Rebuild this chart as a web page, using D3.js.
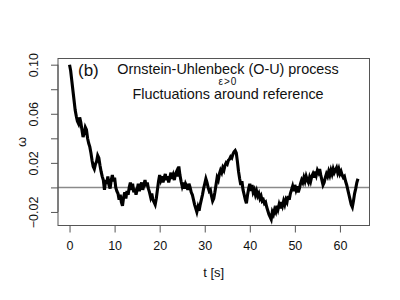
<!DOCTYPE html>
<html>
<head>
<meta charset="utf-8">
<script src="https://cdn.jsdelivr.net/npm/d3@7"></script>
<style>
  body { margin: 0; background: #fff; }
  svg { display: block; }
  text { font-family: "Liberation Sans", Arial, Helvetica, sans-serif; fill: #111; }
</style>
</head>
<body>
<div id="chart"></div>
<script>
// time step of the series (s)
const dt = 0.25;
// omega values, one per dt from t = 0 to t = 64 s
const omega = [
  0.100, 0.095, 0.087, 0.079, 0.071, 0.063, 0.058, 0.054, 0.052, 0.057, 0.053, 0.047,
  0.041, 0.044, 0.049, 0.047, 0.040, 0.036, 0.033, 0.028, 0.022, 0.017, 0.015, 0.019,
  0.021, 0.026, 0.024, 0.018, 0.013, 0.009, 0.006, -0.002, 0.006, 0.003, 0.009, 0.002,
  -0.001, 0.006, 0.010, 0.005, 0.008, 0.000, -0.003, -0.005, -0.010, -0.006, -0.012, -0.015,
  -0.008, -0.004, -0.009, -0.003, -0.006, 0.000, 0.004, -0.002, 0.003, -0.004, -0.001, -0.006,
  -0.002, 0.003, -0.003, 0.001, 0.004, -0.002, 0.002, 0.006, 0.001, 0.004, -0.001, -0.004,
  -0.008, -0.005, -0.010, -0.012, -0.014, -0.009, -0.002, 0.005, 0.010, 0.006, 0.009, 0.004,
  0.008, 0.011, 0.006, 0.009, 0.004, 0.008, 0.012, 0.007, 0.010, 0.006, 0.011, 0.013,
  0.009, 0.017, 0.010, 0.005, 0.001, 0.004, -0.001, 0.003, 0.001, -0.002, 0.003, 0.000,
  -0.004, -0.006, -0.010, -0.014, -0.017, -0.020, -0.016, -0.019, -0.014, -0.010, -0.006, -0.001,
  0.003, 0.007, 0.004, 0.000, -0.003, -0.002, -0.007, -0.011, -0.009, -0.004, 0.002, 0.008,
  0.006, 0.011, 0.014, 0.012, 0.016, 0.014, 0.018, 0.020, 0.019, 0.022, 0.023, 0.025,
  0.024, 0.027, 0.029, 0.030, 0.028, 0.021, 0.013, 0.007, 0.002, 0.005, -0.002, -0.006,
  -0.010, -0.013, -0.006, -0.001, 0.003, -0.003, 0.002, -0.004, -0.002, -0.006, -0.003, -0.007,
  -0.005, -0.009, -0.007, -0.011, -0.010, -0.013, -0.012, -0.016, -0.019, -0.022, -0.024, -0.026,
  -0.020, -0.022, -0.018, -0.020, -0.015, -0.018, -0.014, -0.017, -0.012, -0.015, -0.011, -0.014,
  -0.010, -0.012, -0.007, -0.010, -0.005, -0.002, 0.001, -0.003, 0.002, -0.002, 0.001, -0.004,
  -0.001, 0.003, 0.006, 0.004, 0.008, 0.005, 0.009, 0.006, 0.004, 0.008, 0.005, 0.009,
  0.011, 0.008, 0.013, 0.010, 0.014, 0.012, 0.015, 0.010, 0.006, 0.002, 0.004, 0.008,
  0.011, 0.009, 0.013, 0.010, 0.014, 0.011, 0.015, 0.012, 0.014, 0.016, 0.012, 0.015,
  0.011, 0.013, 0.010, 0.008, 0.009, 0.005, 0.002, -0.002, -0.006, -0.010, -0.014, -0.016,
  -0.011, -0.005, -0.001, 0.004, 0.007
];
const xTicks = [0, 10, 20, 30, 40, 50, 60];
const yTicks = [-0.02, 0, 0.02, 0.04, 0.06, 0.08, 0.10];
const yLabelled = [-0.02, 0.02, 0.06, 0.10];
const titleLines = ["Ornstein-Uhlenbeck (O-U) process", "Fluctuations around reference"];

const width = 400, height = 300;
const plot = { left: 58, right: 369.5, top: 58.5, bottom: 225.5 };

const series = omega.map((v, i) => ({ t: i * dt, v: v }));

// R style 4% padding on both axes
const tExt = d3.extent(series, d => d.t);
const vExt = d3.extent(series, d => d.v);
const tPad = (tExt[1] - tExt[0]) * 0.04;
const vPad = (vExt[1] - vExt[0]) * 0.04;

const x = d3.scaleLinear().domain([tExt[0] - tPad, tExt[1] + tPad]).range([plot.left, plot.right]);
const y = d3.scaleLinear().domain([vExt[0] - vPad, vExt[1] + vPad]).range([plot.bottom, plot.top]);

const svg = d3.select("#chart").append("svg")
  .attr("width", width)
  .attr("height", height);

svg.append("rect").attr("width", width).attr("height", height).attr("fill", "#fff");

// reference line at zero
svg.append("line")
  .attr("x1", plot.left).attr("x2", plot.right)
  .attr("y1", y(0)).attr("y2", y(0))
  .attr("stroke", "#8a8a8a")
  .attr("stroke-width", 1.5);

// series
const line = d3.line().x(d => x(d.t)).y(d => y(d.v));
svg.append("path")
  .datum(series)
  .attr("d", line)
  .attr("fill", "none")
  .attr("stroke", "#000")
  .attr("stroke-width", 3.1)
  .attr("stroke-linejoin", "miter");

// box
svg.append("rect")
  .attr("x", plot.left).attr("y", plot.top)
  .attr("width", plot.right - plot.left).attr("height", plot.bottom - plot.top)
  .attr("fill", "none")
  .attr("stroke", "#555")
  .attr("stroke-width", 1);

// x axis
const xAxis = svg.append("g")
  .attr("transform", `translate(0,${plot.bottom})`)
  .call(d3.axisBottom(x).tickValues(xTicks).tickSize(7).tickPadding(9).tickFormat(d3.format("d")));
xAxis.select(".domain").attr("d", `M${x(0)},0H${x(60)}`).attr("stroke", "#555");
xAxis.selectAll(".tick line").attr("stroke", "#555");
xAxis.selectAll("text").style("font-size", "12.5px").attr("fill", "#111");

// y axis, labels only on every other tick as in the original
const yAxis = svg.append("g")
  .attr("transform", `translate(${plot.left},0)`)
  .call(d3.axisLeft(y).tickValues(yTicks).tickSize(7).tickFormat(d => yLabelled.some(l => Math.abs(l - d) < 1e-9) ? d3.format(".2f")(d) : ""));
yAxis.select(".domain").attr("d", `M0,${y(-0.02)}V${y(0.10)}`).attr("stroke", "#555");
yAxis.selectAll(".tick line").attr("stroke", "#555");
yAxis.selectAll("text")
  .style("font-size", "12.5px")
  .attr("fill", "#111")
  .attr("x", null).attr("dy", null)
  .attr("text-anchor", "middle")
  .attr("transform", "translate(-20,0) rotate(-90)");

// axis titles
svg.append("text")
  .attr("x", (plot.left + plot.right) / 2)
  .attr("y", 277)
  .attr("text-anchor", "middle")
  .style("font-size", "13px")
  .text("t [s]");

svg.append("text")
  .attr("transform", `translate(21,${(plot.top + plot.bottom) / 2}) rotate(-90)`)
  .attr("text-anchor", "middle")
  .attr("dy", "0.35em")
  .style("font-size", "13px")
  .text("ω");

// panel label and annotation
svg.append("text")
  .attr("x", 78).attr("y", 76)
  .style("font-size", "17px")
  .text("(b)");

const cx = 228;
svg.append("text").attr("x", cx).attr("y", 74).attr("text-anchor", "middle")
  .style("font-size", "14.4px").text(titleLines[0]);
svg.append("text").attr("x", cx).attr("y", 84.5).attr("text-anchor", "middle")
  .style("font-size", "10px").style("letter-spacing", "1px").text("ε>0");
svg.append("text").attr("x", cx).attr("y", 98.5).attr("text-anchor", "middle")
  .style("font-size", "14.4px").text(titleLines[1]);
</script>
</body>
</html>
